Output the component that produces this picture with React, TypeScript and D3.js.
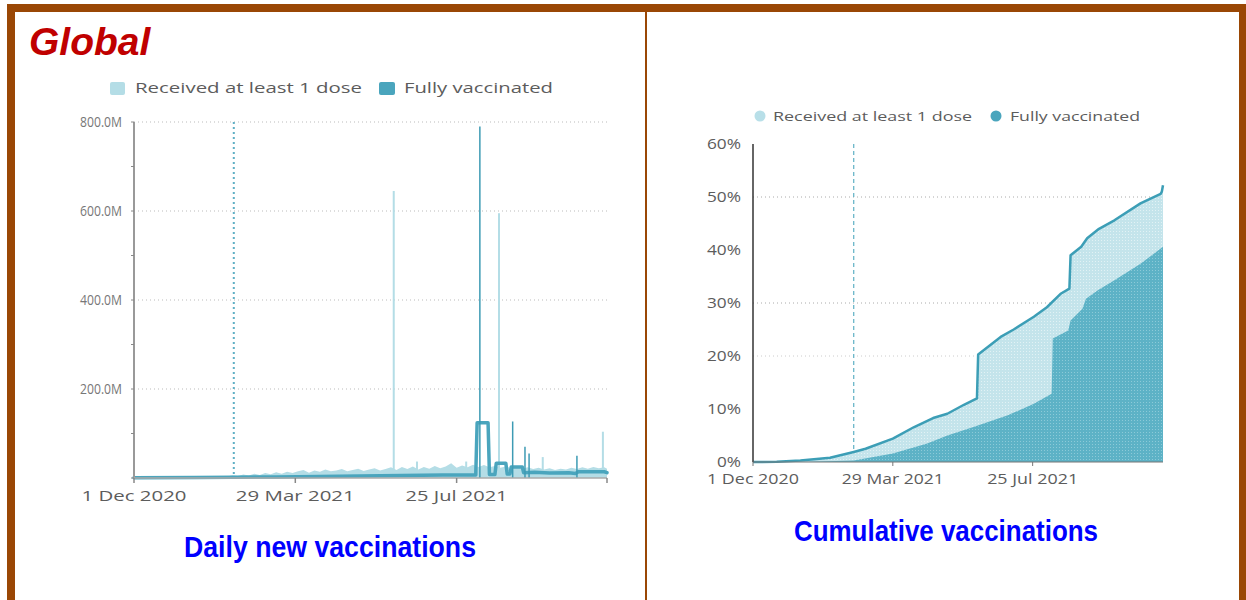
import React from "react";
import * as d3 from "d3";

const parse = d3.timeParse("%Y-%m-%d");
const startDate = "2020-12-01";
const endDate = "2021-11-12";
const xTickDates = ["2020-12-01", "2021-03-29", "2021-07-25"];
const xTickLabels = ["1 Dec 2020", "29 Mar 2021", "25 Jul 2021"];
const dailyYTicks = [200, 400, 600, 800];
const dailyYLabels = ["200.0M", "400.0M", "600.0M", "800.0M"];
const cumYTicks = [0, 10, 20, 30, 40, 50, 60];
const cumGrid = [20, 30, 50];
const seriesNames = ["Received at least 1 dose", "Fully vaccinated"];
const dailyMarker = "2021-02-12";
const cumMarker = "2021-02-24";

// daily first doses (millions), one value every 4 days from 1 Dec 2020, last = 12 Nov 2021
const firstDoseDaily = [
  0.5, 0.6, 0.8, 0.9, 1.0, 1.2, 1.3, 1.5, 1.6, 1.8, 2.0, 2.1, 2.3, 2.5, 2.6, 2.8, 3.0, 3.2,
  6.0, 4.5, 8.0, 5.5, 9.5, 7.0, 11, 8.5, 13, 9.5, 14, 11, 15, 18, 12, 17, 14, 19, 15, 17,
  20, 15, 18, 21, 16, 19, 22, 17, 20, 24, 18, 25, 20, 26, 19, 25, 21, 27, 22, 26, 33, 23,
  28, 24, 30, 25, 29, 24, 27, 23, 26, 22, 25, 21, 24, 20, 23, 19, 22, 18, 21, 19, 23, 20,
  24, 21, 25, 22, 24, 21,
];

const fullyDaily: [string, number][] = [
  ["2020-12-01", 0.5], ["2021-01-15", 1], ["2021-02-12", 1.5], ["2021-03-15", 2.5],
  ["2021-04-15", 3.5], ["2021-05-15", 4.5], ["2021-06-15", 5.5], ["2021-07-15", 6.5],
  ["2021-08-08", 7], ["2021-08-09", 124], ["2021-08-17", 124], ["2021-08-18", 8],
  ["2021-08-22", 8], ["2021-08-23", 33], ["2021-08-30", 33], ["2021-08-31", 9],
  ["2021-09-02", 9], ["2021-09-03", 25], ["2021-09-11", 25], ["2021-09-12", 12],
  ["2021-09-20", 13], ["2021-10-01", 11], ["2021-10-15", 12], ["2021-10-20", 10],
  ["2021-10-22", 14], ["2021-11-10", 14], ["2021-11-12", 12],
];

const firstDoseSpikes: [string, number][] = [
  ["2021-06-09", 645], ["2021-06-26", 37], ["2021-08-01", 37], ["2021-08-25", 595],
  ["2021-09-26", 47], ["2021-11-09", 104],
];

const fullySpikes: [string, number][] = [
  ["2021-08-11", 790], ["2021-09-04", 127], ["2021-09-13", 70], ["2021-09-16", 55],
  ["2021-10-21", 50],
];

const firstDoseCum: [string, number][] = [
  ["2020-12-01", 0], ["2020-12-21", 0.05], ["2021-01-10", 0.3], ["2021-02-04", 0.8],
  ["2021-02-24", 1.9], ["2021-03-06", 2.5], ["2021-03-29", 4.4], ["2021-04-16", 6.6],
  ["2021-05-02", 8.3], ["2021-05-14", 9.1], ["2021-05-28", 10.8], ["2021-06-08", 12.0],
  ["2021-06-09", 20.3], ["2021-06-28", 23.6], ["2021-07-09", 25.0], ["2021-07-26", 27.4],
  ["2021-08-06", 29.2], ["2021-08-18", 31.8], ["2021-08-25", 32.7], ["2021-08-26", 39.0],
  ["2021-09-04", 40.6], ["2021-09-09", 42.2], ["2021-09-19", 44.0], ["2021-10-02", 45.6],
  ["2021-10-24", 48.8], ["2021-11-10", 50.6], ["2021-11-11", 51.0], ["2021-11-12", 52.2],
];

const fullyCum: [string, number][] = [
  ["2020-12-01", 0], ["2021-01-10", 0.02], ["2021-02-24", 0.3], ["2021-03-29", 1.6],
  ["2021-04-27", 3.5], ["2021-05-14", 5.0], ["2021-06-05", 6.6], ["2021-07-04", 8.8],
  ["2021-07-26", 11.0], ["2021-08-10", 12.9], ["2021-08-11", 23.3], ["2021-08-24", 24.8],
  ["2021-08-26", 26.7], ["2021-09-05", 28.9], ["2021-09-08", 30.8], ["2021-09-18", 32.4],
  ["2021-10-02", 34.3], ["2021-10-24", 37.4], ["2021-11-12", 40.6],
];

const LIGHT = "#b4dde6";
const TEAL = "#4aa5bd";
const BROWN = "#9a4705";
const LABEL = "#5c5c5c";
const SANS = "'Open Sans', 'Noto Sans', sans-serif";
const FIT = "spacingAndGlyphs";

export default function App() {
  const d0 = parse(startDate)!;
  const d1 = parse(endDate)!;

  // ---- left chart scales
  const xL = d3.scaleTime().domain([d0, d1]).range([134, 607]);
  const yL = d3.scaleLinear().domain([0, 800]).range([478, 122]);
  const dailyDates = d3.timeDay.range(d0, d3.timeDay.offset(d1, 1), 4);
  const firstPts: [Date, number][] = dailyDates.map((d, i) => [d, firstDoseDaily[i]]);
  firstPts.push([d1, firstDoseDaily[firstDoseDaily.length - 1]]);
  const lightArea = d3
    .area<[Date, number]>()
    .x((d) => xL(d[0]))
    .y0(yL(0))
    .y1((d) => yL(d[1]))(firstPts)!;
  const fullyLine = d3
    .line<[string, number]>()
    .x((d) => xL(parse(d[0])!))
    .y((d) => yL(d[1]))(fullyDaily)!;

  // ---- right chart scales
  const xR = d3.scaleTime().domain([d0, d1]).range([753, 1163]);
  const yR = d3.scaleLinear().domain([0, 60]).range([462, 144]);
  const cumArea = (data: [string, number][]) =>
    d3
      .area<[string, number]>()
      .x((d) => xR(parse(d[0])!))
      .y0(yR(0))
      .y1((d) => yR(d[1]))(data)!;
  const firstCumLine = d3
    .line<[string, number]>()
    .x((d) => xR(parse(d[0])!))
    .y((d) => yR(d[1]))(firstDoseCum)!;

  const minorTicks = d3.range(0, 801, 100);

  return (
    <svg
      width={1246}
      height={600}
      style={{ position: "absolute", left: 0, top: 0, display: "block", background: "#fff" }}
    >
      <defs>
        <pattern id="lightTex" width="3" height="3" patternUnits="userSpaceOnUse">
          <rect width="3" height="3" fill="#c4e4eb" />
          <rect width="1" height="1" fill="#e2f2f5" />
        </pattern>
        <pattern id="darkTex" width="3" height="3" patternUnits="userSpaceOnUse">
          <rect width="3" height="3" fill="#5db2c6" />
          <rect width="1" height="1" fill="#8ccad8" />
        </pattern>
      </defs>

      {/* frame */}
      <rect x={7} y={4} width={1239} height={8} fill={BROWN} />
      <rect x={7} y={4} width={8} height={596} fill={BROWN} />
      <rect x={1239} y={4} width={7} height={596} fill={BROWN} />
      <rect x={645} y={12} width={2} height={588} fill={BROWN} />

      <text
        x={29}
        y={55}
        fill="#c00000"
        fontFamily="'Liberation Sans', Arial, sans-serif"
        fontWeight="bold"
        fontStyle="italic"
        fontSize={39}
      >
        Global
      </text>

      {/* ===== left chart ===== */}
      <rect x={110} y={82} width={15} height={13} rx={2} fill={LIGHT} />
      <text x={135} y={93} fontFamily={SANS} fontSize={14} fill={LABEL} textLength={227} lengthAdjust={FIT}>
        {seriesNames[0]}
      </text>
      <rect x={379} y={82} width={16} height={13} rx={2} fill={TEAL} />
      <text x={404} y={93} fontFamily={SANS} fontSize={14} fill={LABEL} textLength={149} lengthAdjust={FIT}>
        {seriesNames[1]}
      </text>

      {dailyYTicks.map((t) => (
        <line
          key={"gl" + t}
          x1={xL(d0)}
          x2={xL(d1)}
          y1={yL(t)}
          y2={yL(t)}
          stroke="#bbb"
          strokeWidth={1}
          strokeDasharray="1,3"
        />
      ))}
      {dailyYTicks.map((t, i) => (
        <text
          key={"yl" + t}
          x={122}
          y={yL(t) + 5}
          textAnchor="end"
          fontFamily={SANS}
          fontSize={15}
          fill="#777"
          textLength={42}
          lengthAdjust={FIT}
        >
          {dailyYLabels[i]}
        </text>
      ))}

      <path d={lightArea} fill={LIGHT} />
      {firstDoseSpikes.map(([d, v]) => (
        <rect key={"fs" + d} x={xL(parse(d)!) - 1} y={yL(v)} width={2} height={yL(0) - yL(v)} fill={LIGHT} />
      ))}
      <line
        x1={xL(parse(dailyMarker)!)}
        x2={xL(parse(dailyMarker)!)}
        y1={yL(800)}
        y2={yL(0)}
        stroke="#5fafc4"
        strokeWidth={2}
        strokeDasharray="2,3"
      />
      <path d={fullyLine} fill="none" stroke={TEAL} strokeWidth={3.5} strokeLinejoin="round" strokeLinecap="round" />
      {fullySpikes.map(([d, v]) => (
        <line
          key={"vs" + d}
          x1={xL(parse(d)!)}
          x2={xL(parse(d)!)}
          y1={yL(v)}
          y2={yL(0)}
          stroke="#3d9bb4"
          strokeWidth={1.5}
        />
      ))}

      <line x1={xL(d0)} x2={xL(d0)} y1={yL(800)} y2={yL(0)} stroke="#999" strokeWidth={2} />
      {minorTicks.map((t) => (
        <line key={"mt" + t} x1={xL(d0) - 3} x2={xL(d0)} y1={yL(t)} y2={yL(t)} stroke="#888" strokeWidth={1} />
      ))}
      <line x1={xL(d0)} x2={xL(d1)} y1={yL(0)} y2={yL(0)} stroke="#aaa" strokeWidth={1.5} />
      {[...xTickDates, endDate].map((d) => (
        <line key={"xt" + d} x1={xL(parse(d)!)} x2={xL(parse(d)!)} y1={yL(0)} y2={yL(0) + 5} stroke="#888" strokeWidth={1.5} />
      ))}
      {xTickDates.map((d, i) => (
        <text
          key={"xl" + d}
          x={xL(parse(d)!)}
          y={501}
          textAnchor="middle"
          fontFamily={SANS}
          fontSize={15}
          fill={LABEL}
          textLength={[105, 119, 102][i]}
          lengthAdjust={FIT}
        >
          {xTickLabels[i]}
        </text>
      ))}

      <text
        x={184}
        y={557}
        fill="#0000ff"
        fontFamily="'Liberation Sans', Arial, sans-serif"
        fontWeight="bold"
        fontSize={30}
        textLength={292}
        lengthAdjust={FIT}
      >
        Daily new vaccinations
      </text>

      {/* ===== right chart ===== */}
      <circle cx={760} cy={116} r={5.5} fill="#b8dfe8" />
      <text x={773} y={121} fontFamily={SANS} fontSize={13} fill={LABEL} textLength={199} lengthAdjust={FIT}>
        {seriesNames[0]}
      </text>
      <circle cx={996} cy={116} r={5.5} fill={TEAL} />
      <text x={1010} y={121} fontFamily={SANS} fontSize={13} fill={LABEL} textLength={130} lengthAdjust={FIT}>
        {seriesNames[1]}
      </text>

      {cumGrid.map((t) => (
        <line
          key={"cg" + t}
          x1={xR(d0)}
          x2={xR(d1)}
          y1={yR(t)}
          y2={yR(t)}
          stroke={t === 20 ? "#ccc" : "#aaa"}
          strokeWidth={1}
          strokeDasharray="1,3"
        />
      ))}
      {cumYTicks.map((t) => (
        <text
          key={"cy" + t}
          x={741}
          y={yR(t) + 5}
          textAnchor="end"
          fontFamily={SANS}
          fontSize={14}
          fill={LABEL}
          textLength={t === 0 ? 24 : 34}
          lengthAdjust={FIT}
        >
          {t + "%"}
        </text>
      ))}

      <line
        x1={xR(parse(cumMarker)!)}
        x2={xR(parse(cumMarker)!)}
        y1={yR(60)}
        y2={yR(0)}
        stroke="#5fb0c4"
        strokeWidth={1.2}
        strokeDasharray="4,3"
      />
      <path d={cumArea(firstDoseCum)} fill="url(#lightTex)" />
      <path d={cumArea(fullyCum)} fill="url(#darkTex)" />
      <path d={firstCumLine} fill="none" stroke="#3c9eb6" strokeWidth={2.5} strokeLinejoin="round" />

      <line x1={xR(d0)} x2={xR(d0)} y1={yR(60)} y2={yR(0)} stroke="#333" strokeWidth={1.5} />
      <line x1={xR(d0)} x2={xR(d1)} y1={yR(0)} y2={yR(0)} stroke="#777" strokeWidth={1} />
      {xTickDates.map((d) => (
        <line key={"rt" + d} x1={xR(parse(d)!)} x2={xR(parse(d)!)} y1={yR(0)} y2={yR(0) + 4} stroke="#777" strokeWidth={1} />
      ))}
      {xTickDates.map((d, i) => (
        <text
          key={"rl" + d}
          x={xR(parse(d)!)}
          y={484}
          textAnchor="middle"
          fontFamily={SANS}
          fontSize={14}
          fill={LABEL}
          textLength={[92, 102, 91][i]}
          lengthAdjust={FIT}
        >
          {xTickLabels[i]}
        </text>
      ))}

      <text
        x={794}
        y={541}
        fill="#0000ff"
        fontFamily="'Liberation Sans', Arial, sans-serif"
        fontWeight="bold"
        fontSize={30}
        textLength={304}
        lengthAdjust={FIT}
      >
        Cumulative vaccinations
      </text>
    </svg>
  );
}
